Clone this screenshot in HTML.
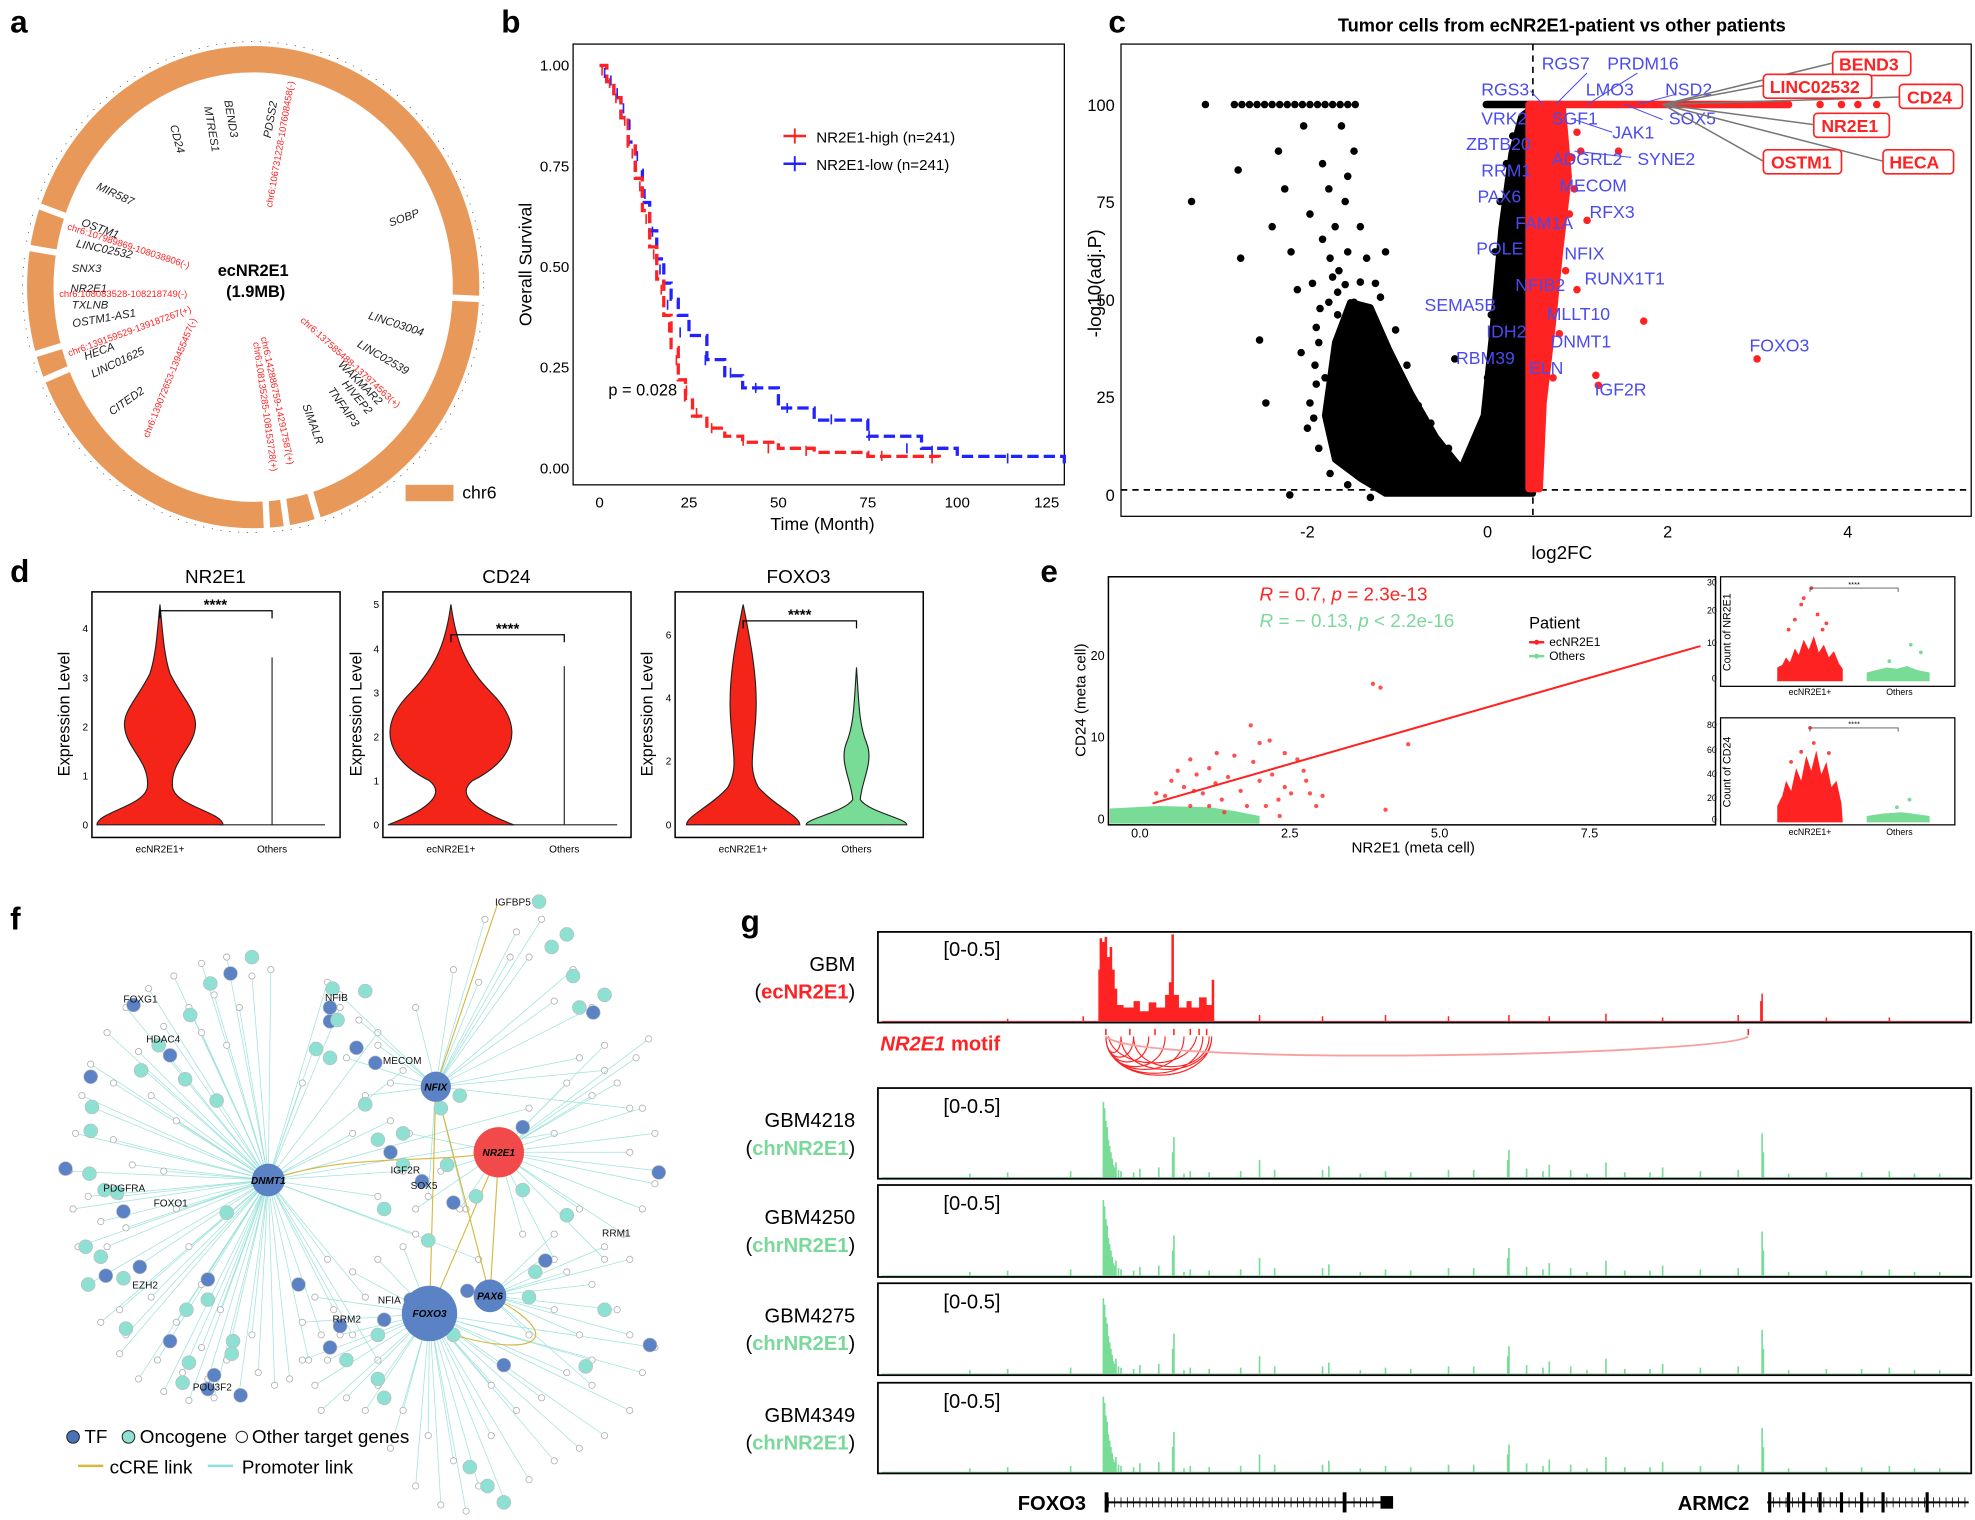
<!DOCTYPE html>
<html><head><meta charset="utf-8">
<style>
html,body{margin:0;padding:0;background:#fff;}
svg{display:block;font-family:"Liberation Sans",Arial,sans-serif;}
</style></head>
<body>
<svg width="1975" height="1520" viewBox="0 0 1568 1207" preserveAspectRatio="none" xmlns="http://www.w3.org/2000/svg">
<defs>
<marker id="wn" markerUnits="userSpaceOnUse" markerWidth="8" markerHeight="8" refX="4" refY="4"><circle cx="4" cy="4" r="2.5" fill="#fff" stroke="#aaa" stroke-width="0.6"/></marker>
<g id="gtrack" stroke="#78dc96" stroke-width="1.3">
<line x1="700" y1="0" x2="1563" y2="0" stroke-width="0.6"/>
<path d="M876 0V-60M877 0V-55M878 0V-45M879 0V-40M880 0V-30M881 0V-25M882 0V-20M883 0V-15M884 0V-10M885 0V-8M886 0V-12M888 0V-6M890 0V-5M932 0V-32M931 0V-20M1000 0V-14M1198 0V-22M1399 0V-35M1230 0V-10M1275 0V-12M1050 0V-6M920 0V-8M960 0V-4M850 0V-5M1100 0V-5M1150 0V-6M1320 0V-8M1350 0V-5M1450 0V-4M1500 0V-5M1540 0V-3M770 0V-3M800 0V-4M1012 0V-6M1170 0V-6M1247 0V-6M1290 0V-4M1380 0V-6M1420 0V-3M1478 0V-4M1055 0V-9M1120 0V-4M905 0V-7M945 0V-5M985 0V-5M1212 0V-7M1225 0V-5M1197 0V-14M1400 0V-20M1080 0V-3M1260 0V-3M1310 0V-4M1520 0V-3M900 0V-4M940 0V-3"/>
</g>
</defs>
<rect width="1568" height="1207" fill="#fff"/>

<g font-weight="bold" font-size="25" fill="#000">
<text x="8" y="26">a</text><text x="398" y="26">b</text><text x="880" y="26">c</text>
<text x="8" y="462">d</text><text x="826" y="462">e</text><text x="8" y="738">f</text><text x="588" y="740">g</text>
</g>

<!-- Panel a -->
<g>
<ellipse cx="201" cy="228" rx="169" ry="181" fill="none" stroke="#E8995A" stroke-width="21"/>
<ellipse cx="201" cy="228" rx="183" ry="195" fill="none" stroke="#555" stroke-width="0.6" stroke-dasharray="1,6"/>
<g stroke="#fff" stroke-width="5">
<line x1="61" y1="175" x2="0" y2="152"/><line x1="53" y1="202" x2="-11" y2="191"/><line x1="58" y1="272" x2="-4" y2="291"/>
<line x1="64" y1="289" x2="4" y2="315"/><line x1="210" y1="378" x2="213" y2="443"/><line x1="222" y1="376" x2="231" y2="441"/>
<line x1="241" y1="373" x2="259" y2="435"/><line x1="351" y1="236" x2="416" y2="239"/>
</g>
<text x="201" y="219" font-size="13" font-weight="bold" text-anchor="middle">ecNR2E1</text>
<text x="203" y="236" font-size="13" font-weight="bold" text-anchor="middle">(1.9MB)</text>
<g font-size="9" font-style="italic" fill="#222">
<text x="135" y="100" transform="rotate(75 135 100)">CD24</text>
<text x="162" y="85" transform="rotate(80 162 85)">MTRES1</text>
<text x="178" y="80" transform="rotate(80 178 80)">BEND3</text>
<text x="215" y="110" transform="rotate(-80 215 110)">PDSS2</text>
<text x="76" y="150" transform="rotate(25 76 150)">MIR587</text>
<text x="64" y="179" transform="rotate(20 64 179)">OSTM1</text>
<text x="60" y="196" transform="rotate(12 60 196)">LINC02532</text>
<text x="57" y="216">SNX3</text>
<text x="56" y="232">NR2E1</text>
<text x="57" y="245">TXLNB</text>
<text x="58" y="260" transform="rotate(-10 58 260)">OSTM1-AS1</text>
<text x="68" y="286" transform="rotate(-20 68 286)">HECA</text>
<text x="74" y="300" transform="rotate(-25 74 300)">LINC01625</text>
<text x="89" y="330" transform="rotate(-35 89 330)">CITED2</text>
<text x="310" y="180" transform="rotate(-20 310 180)">SOBP</text>
<text x="292" y="253" transform="rotate(18 292 253)">LINC03004</text>
<text x="283" y="275" transform="rotate(30 283 275)">LINC02539</text>
<text x="268" y="290" transform="rotate(45 268 290)">WAKMAR2</text>
<text x="271" y="305" transform="rotate(50 271 305)">HIVEP2</text>
<text x="260" y="310" transform="rotate(55 260 310)">TNFAIP3</text>
<text x="240" y="322" transform="rotate(70 240 322)">SIMALR</text>
</g>
<g font-size="7.5" fill="#f22">
<text x="216" y="165" transform="rotate(-80 216 165)">chr6:106731228-107608458(-)</text>
<text x="53" y="182" transform="rotate(18 53 182)">chr6:107989869-108038806(-)</text>
<text x="47" y="236">chr6:108083528-108218749(-)</text>
<text x="55" y="283" transform="rotate(-20 55 283)">chr6:139159529-139187267(+)</text>
<text x="118" y="348" transform="rotate(-68 118 348)">chr6:139072653-139455457(-)</text>
<text x="207" y="268" transform="rotate(78 207 268)">chr6:142886759-142917587(+)</text>
<text x="201" y="272" transform="rotate(82 201 272)">chr6:108135285-108153728(+)</text>
<text x="238" y="255" transform="rotate(42 238 255)">chr6:137585488-137974563(+)</text>
</g>
<rect x="322" y="385" width="38" height="13" fill="#E8995A"/>
<text x="367" y="396" font-size="14">chr6</text>
</g>

<!-- Panel b -->
<g font-size="12">
<rect x="455" y="35" width="390" height="350" fill="none" stroke="#000" stroke-width="1"/>
<g text-anchor="end">
<text x="452" y="56">1.00</text><text x="452" y="136">0.75</text><text x="452" y="216">0.50</text><text x="452" y="296">0.25</text><text x="452" y="376">0.00</text></g>
<g text-anchor="middle">
<text x="476" y="403">0</text><text x="547" y="403">25</text><text x="618" y="403">50</text><text x="689" y="403">75</text><text x="760" y="403">100</text><text x="831" y="403">125</text></g>
<text x="653" y="421" font-size="14" text-anchor="middle">Time (Month)</text>
<text x="422" y="210" font-size="14" text-anchor="middle" transform="rotate(-90 422 210)">Overall Survival</text>
<path d="M476 52H481.7V64.8H487.4V77.6H493V93.6H498.7V112.8H504.4V135.2H510V160.8H515.8V183.2H521.4V205.6H527V224.8H532.8V237.6H538.5V250.4H547V266.4H561.2V285.6H575.4V298.4H589.6V308H618V324H646.4V333.6H689V346.4H731.6V356H760V362.4H845V368.8" fill="none" stroke="#22f" stroke-width="2.6" stroke-dasharray="9,4"/>
<path d="M476 52H481.7V64.8H487.4V77.6H493V93.6H498.7V116H504.4V141.6H510V167.2H515.8V196H521.4V221.6H527V250.4H532.8V276H538.5V301.6H544.2V317.6H549.8V330.4H561.2V340H575.4V346.4H589.6V351.2H618V356H646.4V359.2H689V362.4H745.8V365.6" fill="none" stroke="#f22" stroke-width="2.6" stroke-dasharray="9,4"/>
<path d="M480 54v8M485 60v8M490 70v8M495 82v8M500 95v8M506 120v8M512 150v8M518 180v8M524 210v8M530 238v8M540 260v8M560 282v8M580 292v8M600 304v8M625 320v8M660 329v8M690 342v8M720 352v8M740 354v8M800 360v8" stroke="#22f" stroke-width="1.3"/>
<path d="M478 52v8M484 62v8M489 74v8M496 92v8M502 118v8M508 144v8M513 170v8M519 198v8M525 226v8M531 256v8M537 282v8M545 306v8M553 324v8M565 336v8M590 346v8M610 352v8M640 354v8M700 358v8M740 360v8" stroke="#f22" stroke-width="1.3"/>
<text x="483" y="314" font-size="13">p = 0.028</text>
<line x1="622" y1="108" x2="640" y2="108" stroke="#f22" stroke-width="2"/><line x1="631" y1="102" x2="631" y2="114" stroke="#f22" stroke-width="1.5"/>
<text x="648" y="113">NR2E1-high (n=241)</text>
<line x1="622" y1="130" x2="640" y2="130" stroke="#22f" stroke-width="2"/><line x1="631" y1="124" x2="631" y2="136" stroke="#22f" stroke-width="1.5"/>
<text x="648" y="135">NR2E1-low (n=241)</text>
</g>

<!-- Panel c -->
<g font-size="13">
<text x="1240" y="25" font-size="14.5" font-weight="bold" text-anchor="middle">Tumor cells from ecNR2E1-patient vs other patients</text>
<rect x="890" y="35" width="675" height="375" fill="none" stroke="#000"/>
<g text-anchor="end"><text x="885" y="88">100</text><text x="885" y="165">75</text><text x="885" y="243">50</text><text x="885" y="320">25</text><text x="885" y="398">0</text></g>
<g text-anchor="middle"><text x="1038" y="427">-2</text><text x="1181" y="427">0</text><text x="1324" y="427">2</text><text x="1467" y="427">4</text></g>
<text x="1240" y="444" font-size="15" text-anchor="middle">log2FC</text>
<text x="874" y="225" font-size="15" text-anchor="middle" transform="rotate(-90 874 225)">-log10(adj.P)</text>
</g>
<g fill="#000">
<path d="M1052 330L1060 272L1072 240L1088 244L1103 278L1120 312L1140 347L1160 372L1178 330L1185 262L1192 182L1200 122L1208 92L1217 85L1217 392L1100 392L1080 380L1060 365Z" stroke="#000" stroke-width="5" stroke-linejoin="round"/>
<line x1="980" y1="83" x2="1077" y2="83" stroke="#000" stroke-width="6" stroke-linecap="round" stroke-dasharray="0,6"/>
<line x1="1180" y1="83" x2="1215" y2="83" stroke="#000" stroke-width="6" stroke-linecap="round"/>
<g>
<circle cx="957" cy="83" r="3"/><circle cx="946" cy="160" r="3"/><circle cx="983" cy="135" r="3"/><circle cx="985" cy="205" r="3"/><circle cx="1000" cy="270" r="3"/><circle cx="1010" cy="180" r="3"/><circle cx="1015" cy="120" r="3"/><circle cx="1020" cy="150" r="3"/><circle cx="1025" cy="200" r="3"/><circle cx="1030" cy="230" r="3"/><circle cx="1035" cy="100" r="3"/><circle cx="1040" cy="170" r="3"/><circle cx="1045" cy="260" r="3"/><circle cx="1050" cy="130" r="3"/><circle cx="1052" cy="300" r="3"/><circle cx="1055" cy="150" r="3"/><circle cx="1058" cy="220" r="3"/><circle cx="1060" cy="180" r="3"/><circle cx="1062" cy="250" r="3"/><circle cx="1065" cy="330" r="3"/><circle cx="1070" cy="200" r="3"/><circle cx="1072" cy="280" r="3"/><circle cx="1075" cy="240" r="3"/><circle cx="1078" cy="310" r="3"/><circle cx="1080" cy="350" r="3"/><circle cx="1085" cy="260" r="3"/><circle cx="1088" cy="290" r="3"/><circle cx="1090" cy="330" r="3"/><circle cx="1095" cy="300" r="3"/><circle cx="1098" cy="360" r="3"/><circle cx="1024" cy="393" r="3"/><circle cx="1155" cy="285" r="3"/><circle cx="1005" cy="320" r="3"/><circle cx="1040" cy="320" r="3"/><circle cx="1065" cy="100" r="3"/><circle cx="1070" cy="140" r="3"/><circle cx="1075" cy="120" r="3"/><circle cx="1080" cy="180" r="3"/><circle cx="1085" cy="205" r="3"/><circle cx="1050" cy="190" r="3"/><circle cx="1033" cy="280" r="3"/><circle cx="1042" cy="225" r="3"/><circle cx="1048" cy="245" r="3"/><circle cx="1056" cy="205" r="3"/><circle cx="1063" cy="215" r="3"/><circle cx="1068" cy="160" r="3"/><circle cx="1044" cy="290" r="3"/><circle cx="1038" cy="340" r="3"/><circle cx="1112" cy="340" r="3"/><circle cx="1100" cy="200" r="3"/><circle cx="1092" cy="225" r="3"/>
<circle cx="1055" cy="240" r="3"/><circle cx="1062" cy="232" r="3"/><circle cx="1068" cy="226" r="3"/><circle cx="1080" cy="224" r="3"/><circle cx="1096" cy="236" r="3"/><circle cx="1047" cy="272" r="3"/><circle cx="1045" cy="305" r="3"/><circle cx="1043" cy="332" r="3"/><circle cx="1047" cy="356" r="3"/><circle cx="1056" cy="376" r="3"/><circle cx="1112" cy="300" r="3"/><circle cx="1126" cy="322" r="3"/><circle cx="1136" cy="336" r="3"/><circle cx="1150" cy="356" r="3"/><circle cx="1108" cy="262" r="3"/><circle cx="1117" cy="290" r="3"/><circle cx="1181" cy="300" r="3"/><circle cx="1184" cy="250" r="3"/><circle cx="1187" cy="200" r="3"/><circle cx="1191" cy="160" r="3"/><circle cx="1196" cy="130" r="3"/><circle cx="1201" cy="108" r="3"/><circle cx="1178" cy="335" r="3"/><circle cx="1172" cy="352" r="3"/><circle cx="1088" cy="395" r="3"/><circle cx="1070" cy="385" r="3"/>
</g>
</g>
<line x1="1217" y1="35" x2="1217" y2="410" stroke="#000" stroke-dasharray="5,4" stroke-width="1.3"/>
<line x1="890" y1="389" x2="1565" y2="389" stroke="#000" stroke-dasharray="5,4" stroke-width="1.3"/>
<g fill="#f22">
<path d="M1214 83L1240 83L1245 140L1238 200L1232 260L1225 320L1222 388L1214 388Z" stroke="#f22" stroke-width="6" stroke-linejoin="round"/>
<line x1="1217" y1="83" x2="1420" y2="83" stroke="#f22" stroke-width="6" stroke-linecap="round"/>
<circle cx="1445" cy="83" r="3"/><circle cx="1462" cy="83" r="3"/><circle cx="1475" cy="83" r="3"/><circle cx="1490" cy="83" r="3"/>
<circle cx="1255" cy="120" r="3"/><circle cx="1260" cy="175" r="3"/><circle cx="1285" cy="120" r="3"/><circle cx="1305" cy="255" r="3"/><circle cx="1267" cy="298" r="3"/><circle cx="1269" cy="306" r="3"/><circle cx="1395" cy="285" r="3"/><circle cx="1252" cy="230" r="3"/><circle cx="1250" cy="150" r="3"/><circle cx="1252" cy="105" r="3"/>
<circle cx="1246" cy="170" r="3"/><circle cx="1243" cy="215" r="3"/><circle cx="1238" cy="265" r="3"/><circle cx="1233" cy="300" r="3"/><circle cx="1248" cy="125" r="3"/>
</g>
<g font-size="14" fill="#4a4af0">
<g stroke="#4a4af0" stroke-width="0.8">
<line x1="1260" y1="58" x2="1235" y2="83"/><line x1="1300" y1="58" x2="1260" y2="83"/><line x1="1330" y1="75" x2="1300" y2="83"/><line x1="1215" y1="72" x2="1225" y2="83"/>
<line x1="1250" y1="95" x2="1280" y2="105"/><line x1="1290" y1="83" x2="1320" y2="95"/><line x1="1250" y1="120" x2="1295" y2="125"/>
</g>
<text x="1224" y="55">RGS7</text><text x="1276" y="55">PRDM16</text><text x="1176" y="76">RGS3</text><text x="1259" y="76">LMO3</text><text x="1322" y="76">NSD2</text>
<text x="1176" y="99">VRK2</text><text x="1232" y="99">SGF1</text><text x="1280" y="110">JAK1</text><text x="1325" y="99">SOX5</text>
<text x="1164" y="119">ZBTB20</text><text x="1232" y="131">ADGRL2</text><text x="1300" y="131">SYNE2</text>
<text x="1176" y="140">RRM1</text><text x="1238" y="152">MECOM</text><text x="1173" y="161">PAX6</text><text x="1262" y="173">RFX3</text>
<text x="1203" y="182">FAM1A</text><text x="1172" y="202">POLE</text><text x="1242" y="206">NFIX</text><text x="1258" y="226">RUNX1T1</text>
<text x="1203" y="231">NFIB2</text><text x="1131" y="247">SEMA5B</text><text x="1228" y="254">MLLT10</text><text x="1180" y="268">IDH2</text>
<text x="1231" y="276">DNMT1</text><text x="1156" y="289">RBM39</text><text x="1214" y="297">ELN</text><text x="1266" y="314">IGF2R</text>
<text x="1389" y="279">FOXO3</text>
</g>
<g font-size="14" font-weight="bold" fill="#f22">
<g stroke="#777" stroke-width="1.2">
<line x1="1320" y1="83" x2="1455" y2="50"/><line x1="1320" y1="83" x2="1400" y2="68"/><line x1="1320" y1="83" x2="1508" y2="77"/>
<line x1="1320" y1="83" x2="1440" y2="99"/><line x1="1320" y1="83" x2="1400" y2="128"/><line x1="1320" y1="83" x2="1495" y2="128"/>
</g>
<g fill="#fff" stroke="#f22" stroke-width="1.3">
<rect x="1455" y="41" width="62" height="19" rx="3"/><rect x="1400" y="59" width="86" height="19" rx="3"/><rect x="1508" y="67" width="50" height="19" rx="3"/>
<rect x="1440" y="90" width="60" height="19" rx="3"/><rect x="1400" y="119" width="62" height="19" rx="3"/><rect x="1495" y="119" width="56" height="19" rx="3"/>
</g>
<text x="1460" y="56">BEND3</text><text x="1405" y="74">LINC02532</text><text x="1514" y="82">CD24</text>
<text x="1446" y="105">NR2E1</text><text x="1406" y="134">OSTM1</text><text x="1500" y="134">HECA</text>
</g>

<!-- Panel d -->
<g font-size="10">
<g font-size="15" text-anchor="middle"><text x="171" y="463">NR2E1</text><text x="402" y="463">CD24</text><text x="634" y="463">FOXO3</text></g>
<g stroke="#222" stroke-width="0.9">
<path fill="#f42418" d="M127 480 C129 500,130 520,135 535 C145 555,157 565,155 578 C153 595,135 605,137 625 C139 640,177 645,177 655 L77 655 C77 645,115 640,117 625 C119 605,101 595,99 578 C97 565,109 555,119 535 C124 520,125 500,127 480 Z"/>
<path fill="#f42418" d="M358 480 C362 510,370 530,390 550 C420 580,405 605,375 620 C365 628,368 640,408 655 L308 655 C348 640,351 628,341 620 C311 605,296 580,326 550 C346 530,354 510,358 480 Z"/>
<path fill="#f42418" d="M590 480 C596 510,602 540,600 570 C598 600,594 610,602 625 C615 640,635 648,635 655 L545 655 C545 648,565 640,578 625 C586 610,582 600,580 570 C578 540,584 510,590 480 Z"/>
<path fill="#78dc96" d="M680 530 C682 560,682 575,688 590 C694 605,684 620,683 635 C690 645,720 650,720 655 L640 655 C640 650,670 645,677 635 C676 620,666 605,672 590 C678 575,678 560,680 530 Z"/>
<path fill="none" d="M174 655H258M216 655V522M405 655H490M448 655V529"/>
</g>
<rect x="73" y="470" width="197" height="195" fill="none" stroke="#000" stroke-width="1.2"/>
<rect x="304" y="470" width="197" height="195" fill="none" stroke="#000" stroke-width="1.2"/>
<rect x="536" y="470" width="197" height="195" fill="none" stroke="#000" stroke-width="1.2"/>
<g font-size="13" text-anchor="middle">
<text x="55" y="567" transform="rotate(-90 55 567)">Expression Level</text>
<text x="287" y="567" transform="rotate(-90 287 567)">Expression Level</text>
<text x="518" y="567" transform="rotate(-90 518 567)">Expression Level</text></g>
<g font-size="8" text-anchor="middle"><text x="127" y="677">ecNR2E1+</text><text x="216" y="677">Others</text>
<text x="358" y="677">ecNR2E1+</text><text x="448" y="677">Others</text><text x="590" y="677">ecNR2E1+</text><text x="680" y="677">Others</text></g>
<g font-size="8" text-anchor="end">
<text x="70" y="658">0</text><text x="70" y="619">1</text><text x="70" y="580">2</text><text x="70" y="541">3</text><text x="70" y="502">4</text>
<text x="301" y="658">0</text><text x="301" y="623">1</text><text x="301" y="588">2</text><text x="301" y="553">3</text><text x="301" y="518">4</text><text x="301" y="483">5</text>
<text x="533" y="658">0</text><text x="533" y="607">2</text><text x="533" y="557">4</text><text x="533" y="507">6</text></g>
<g stroke="#000" fill="none" stroke-width="1">
<path d="M127 491 V485 H216 V491"/><path d="M358 510 V504 H448 V510"/><path d="M590 499 V493 H680 V499"/></g>
<g font-size="12" font-weight="bold" text-anchor="middle"><text x="171" y="484">****</text><text x="403" y="503">****</text><text x="635" y="492">****</text></g>
</g>

<!-- Panel e -->
<g font-size="10">
<path d="M881 642 L920 640 L960 641 L980 644 L1000 648 L1000 654 L881 654 Z" fill="#78dc96"/>
<line x1="920" y1="651" x2="998" y2="652" stroke="#78dc96" stroke-width="2"/>
<g fill="#f33" opacity="0.85">
<circle cx="925" cy="632" r="1.7"/><circle cx="930" cy="620" r="1.7"/><circle cx="940" cy="625" r="1.7"/><circle cx="945" cy="640" r="1.7"/><circle cx="950" cy="615" r="1.7"/><circle cx="955" cy="630" r="1.7"/><circle cx="960" cy="610" r="1.7"/><circle cx="965" cy="622" r="1.7"/><circle cx="970" cy="635" r="1.7"/><circle cx="975" cy="617" r="1.7"/><circle cx="980" cy="600" r="1.7"/><circle cx="985" cy="628" r="1.7"/><circle cx="990" cy="640" r="1.7"/><circle cx="995" cy="605" r="1.7"/><circle cx="1000" cy="620" r="1.7"/><circle cx="1005" cy="640" r="1.7"/><circle cx="1010" cy="615" r="1.7"/><circle cx="1015" cy="635" r="1.7"/><circle cx="1020" cy="625" r="1.7"/><circle cx="1025" cy="630" r="1.7"/><circle cx="1030" cy="603" r="1.7"/><circle cx="1035" cy="612" r="1.7"/><circle cx="1040" cy="630" r="1.7"/><circle cx="1045" cy="640" r="1.7"/><circle cx="1000" cy="590" r="1.7"/><circle cx="993" cy="576" r="1.7"/><circle cx="1020" cy="598" r="1.7"/><circle cx="1037" cy="620" r="1.7"/><circle cx="1090" cy="543" r="1.7"/><circle cx="1096" cy="546" r="1.7"/><circle cx="1118" cy="591" r="1.7"/><circle cx="1100" cy="643" r="1.7"/><circle cx="945" cy="603" r="1.7"/><circle cx="960" cy="640" r="1.7"/><circle cx="1008" cy="588" r="1.7"/><circle cx="935" cy="612" r="1.7"/><circle cx="918" cy="630" r="1.7"/><circle cx="948" cy="628" r="1.7"/><circle cx="972" cy="645" r="1.7"/><circle cx="966" cy="598" r="1.7"/><circle cx="1050" cy="632" r="1.7"/><circle cx="1016" cy="648" r="1.7"/>
</g>
<rect x="880" y="458" width="482" height="197" fill="none" stroke="#000" stroke-width="1.2"/>
<g text-anchor="end" font-size="10"><text x="877" y="524">20</text><text x="877" y="589">10</text><text x="877" y="654">0</text></g>
<g text-anchor="middle" font-size="10"><text x="905" y="665">0.0</text><text x="1024" y="665">2.5</text><text x="1143" y="665">5.0</text><text x="1262" y="665">7.5</text></g>
<text x="1122" y="677" font-size="12" text-anchor="middle">NR2E1 (meta cell)</text>
<text x="862" y="556" font-size="12" text-anchor="middle" transform="rotate(-90 862 556)">CD24 (meta cell)</text>
<text x="1000" y="477" font-size="15" fill="#f22"><tspan font-style="italic">R</tspan> = 0.7, <tspan font-style="italic">p</tspan> = 2.3e-13</text>
<text x="1000" y="498" font-size="15" fill="#7ad99a"><tspan font-style="italic">R</tspan> = − 0.13, <tspan font-style="italic">p</tspan> &lt; 2.2e-16</text>
<text x="1214" y="499" font-size="13">Patient</text>
<line x1="1214" y1="510" x2="1226" y2="510" stroke="#f22" stroke-width="2"/><circle cx="1220" cy="510" r="2" fill="#f22"/><text x="1230" y="513" font-size="9.5">ecNR2E1</text>
<line x1="1214" y1="521" x2="1226" y2="521" stroke="#7ad99a" stroke-width="2"/><circle cx="1220" cy="521" r="2" fill="#7ad99a"/><text x="1230" y="524" font-size="9.5">Others</text>
<line x1="915" y1="638" x2="1350" y2="513" stroke="#f22" stroke-width="1.6"/>
<path d="M1411 541 L1411 530 L1415 528 L1418 522 L1421 526 L1425 515 L1428 520 L1432 508 L1436 516 L1440 505 L1444 518 L1448 512 L1452 522 L1456 517 L1460 527 L1463 531 L1463 541 Z" fill="#f22"/>
<path d="M1482 541 L1482 534 L1490 532 L1498 530 L1506 531 L1514 529 L1522 532 L1532 534 L1532 541 Z" fill="#78dc96"/>
<path d="M1411 653 L1411 640 L1415 632 L1418 620 L1422 628 L1426 610 L1430 620 L1434 600 L1438 612 L1442 596 L1446 615 L1450 605 L1454 625 L1458 620 L1462 638 L1463 653 Z" fill="#f22"/>
<path d="M1482 653 L1482 648 L1495 646 L1510 645 L1525 647 L1532 648 L1532 653 Z" fill="#78dc96"/>
<g fill="#f22" opacity="0.85"><circle cx="1438" cy="467" r="1.5"/><circle cx="1432" cy="475" r="1.5"/><circle cx="1430" cy="480" r="1.5"/><circle cx="1443" cy="488" r="1.5"/><circle cx="1425" cy="492" r="1.5"/><circle cx="1450" cy="495" r="1.5"/><circle cx="1420" cy="500" r="1.5"/><circle cx="1447" cy="500" r="1.5"/><circle cx="1437" cy="578" r="1.5"/><circle cx="1430" cy="597" r="1.5"/><circle cx="1452" cy="598" r="1.5"/><circle cx="1440" cy="590" r="1.5"/><circle cx="1422" cy="605" r="1.5"/></g>
<g fill="#78dc96"><circle cx="1517" cy="512" r="1.5"/><circle cx="1525" cy="518" r="1.5"/><circle cx="1500" cy="525" r="1.5"/><circle cx="1516" cy="635" r="1.5"/><circle cx="1506" cy="641" r="1.5"/></g>
<rect x="1366" y="458" width="186" height="87" fill="none" stroke="#000"/>
<rect x="1366" y="570" width="186" height="85" fill="none" stroke="#000"/>
<g font-size="7" text-anchor="end"><text x="1363" y="465">30</text><text x="1363" y="487">20</text><text x="1363" y="513">10</text><text x="1363" y="541">0</text>
<text x="1363" y="578">80</text><text x="1363" y="598">60</text><text x="1363" y="617">40</text><text x="1363" y="636">20</text><text x="1363" y="653">0</text></g>
<text x="1374" y="502" font-size="8.5" text-anchor="middle" transform="rotate(-90 1374 502)">Count of NR2E1</text>
<text x="1374" y="613" font-size="8.5" text-anchor="middle" transform="rotate(-90 1374 613)">Count of CD24</text>
<g font-size="7" text-anchor="middle"><text x="1437" y="552">ecNR2E1+</text><text x="1508" y="552">Others</text><text x="1437" y="663">ecNR2E1+</text><text x="1508" y="663">Others</text></g>
<path d="M1437 470 V467 H1507 V470 M1437 581 V578 H1507 V581" stroke="#555" fill="none" stroke-width="0.7"/>
<text x="1472" y="466" font-size="6" text-anchor="middle">****</text><text x="1472" y="577" font-size="6" text-anchor="middle">****</text>
</g>

<!-- Panel f network -->
<g fill="none" stroke="#9fe3dc" stroke-width="0.6" marker-mid="url(#wn)" marker-end="url(#wn)">
<path d="M213 937L60 900M213 937L55 930M213 937L58 960M213 937L62 990M213 937L70 1020M213 937L80 1050M213 937L95 1075M213 937L110 1095M213 937L130 1105M213 937L150 1112M213 937L170 1110M213 937L190 1105M213 937L65 870M213 937L72 845M213 937L85 820M213 937L100 800M213 937L118 785M213 937L138 775M213 937L160 765M213 937L180 760M213 937L200 775M213 937L215 770M213 937L75 880M213 937L90 905M213 937L95 950M213 937L100 975M213 937L110 1005M213 937L120 1030M213 937L140 1050M213 937L160 1070M213 937L180 1080M213 937L200 1060M213 937L90 860M213 937L110 835M213 937L130 815M213 937L150 800M213 937L170 790M213 937L190 800M213 937L120 870M213 937L140 890M213 937L130 930M213 937L140 960M213 937L150 990M213 937L160 1020M213 937L175 1040M213 937L105 925M213 937L85 990M213 937L100 1060M213 937L125 1080M213 937L145 1090M213 937L165 1095M213 937L70 950M213 937L80 970M213 937L95 1040M213 937L115 850M213 937L135 840M213 937L160 820M213 937L180 830M213 937L205 1090M213 937L218 1100M213 937L230 1095M213 937L245 1080M213 937L255 1060M213 937L265 1040M213 937L300 820M213 937L320 850M213 937L280 900M213 937L300 950M213 937L330 980M213 937L260 1000M213 937L280 1060M213 937L300 1080M213 937L290 1030M213 937L250 830M213 937L270 800M213 937L260 780M213 937L240 860M213 937L310 890M213 937L320 930M213 937L420 880M213 937L440 900M213 937L380 1000"/>
<path d="M346 863L410 740M346 863L420 760M346 863L455 770M346 863L470 800M346 863L440 795M346 863L270 790M346 863L285 810M346 863L300 830M346 863L275 840M346 863L290 870M346 863L380 780M346 863L360 770M346 863L480 850M346 863L500 880M346 863L460 840M346 863L430 730M346 863L385 730M346 863L405 760M346 863L330 800M346 863L310 860M346 863L340 950M346 863L370 960"/>
<path d="M396 915L490 860M396 915L510 880M396 915L520 900M396 915L525 930M396 915L510 960M396 915L495 980M396 915L480 1000M396 915L470 870M396 915L450 860M396 915L500 915M396 915L520 940M396 915L460 960M396 915L440 1000M396 915L415 980M396 915L365 960M396 915L350 930M396 915L505 840M396 915L515 825M396 915L480 830M396 915L325 900M396 915L330 960"/>
<path d="M341 1043L300 1100M341 1043L320 1120M341 1043L340 1140M341 1043L360 1160M341 1043L380 1180M341 1043L400 1190M341 1043L420 1175M341 1043L440 1160M341 1043L460 1150M341 1043L480 1140M341 1043L500 1120M341 1043L510 1090M341 1043L520 1070M341 1043L270 1060M341 1043L260 1080M341 1043L250 1100M341 1043L240 1050M341 1043L250 1030M341 1043L280 1010M341 1043L300 1000M341 1043L320 990M341 1043L290 1120M341 1043L310 1150M341 1043L330 1180M341 1043L350 1195M341 1043L370 1200M341 1043L390 1140M341 1043L410 1120M341 1043L430 1110M341 1043L450 1090M341 1043L470 1080M341 1043L240 1080M341 1043L255 1120M341 1043L275 1110M341 1043L390 1100"/>
<path d="M389 1029L430 1000M389 1029L450 1010M389 1029L470 1020M389 1029L490 1040M389 1029L500 1060M389 1029L460 1060M389 1029L440 1040M389 1029L420 1060M389 1029L480 990M389 1029L440 980M389 1029L500 1000M389 1029L470 1100"/>
</g>
<g stroke="#d4b840" stroke-width="0.9" fill="none">
<path d="M346 863L341 1043M396 915L341 1043M213 937C280 915 330 925 396 915M346 863L389 1029M396 915L389 1029M346 863L395 718M389 1029C450 1060 430 1080 360 1060"/>
</g>
<g stroke="#bbb" stroke-width="0.5">
<g fill="#5a82c4">
<circle cx="106" cy="798" r="5.5"/><circle cx="183" cy="773" r="5.5"/><circle cx="72" cy="855" r="5.5"/><circle cx="135" cy="838" r="5.5"/><circle cx="52" cy="928" r="5.5"/><circle cx="98" cy="962" r="5.5"/><circle cx="84" cy="1013" r="5.5"/><circle cx="165" cy="1016" r="5.5"/><circle cx="111" cy="1006" r="5.5"/><circle cx="135" cy="1065" r="5.5"/><circle cx="170" cy="1092" r="5.5"/><circle cx="191" cy="1108" r="5.5"/><circle cx="165" cy="1103" r="5.5"/><circle cx="237" cy="1020" r="5.5"/><circle cx="270" cy="1053" r="5.5"/><circle cx="262" cy="1070" r="5.5"/><circle cx="262" cy="800" r="5.5"/><circle cx="262" cy="811" r="5.5"/><circle cx="283" cy="832" r="5.5"/><circle cx="298" cy="844" r="5.5"/><circle cx="371" cy="1025" r="5.5"/><circle cx="433" cy="1001" r="5.5"/><circle cx="415" cy="895" r="5.5"/><circle cx="400" cy="1084" r="5.5"/><circle cx="516" cy="1068" r="5.5"/><circle cx="471" cy="804" r="5.5"/><circle cx="326" cy="1032" r="5.5"/><circle cx="305" cy="1048" r="5.5"/><circle cx="310" cy="915" r="5.5"/><circle cx="335" cy="938" r="5.5"/><circle cx="360" cy="955" r="5.5"/><circle cx="523" cy="931" r="5.5"/>
</g>
<g fill="#8ee0d2">
<circle cx="167" cy="781" r="5.5"/><circle cx="200" cy="760" r="5.5"/><circle cx="151" cy="806" r="5.5"/><circle cx="126" cy="830" r="5.5"/><circle cx="112" cy="850" r="5.5"/><circle cx="147" cy="857" r="5.5"/><circle cx="172" cy="874" r="5.5"/><circle cx="73" cy="879" r="5.5"/><circle cx="72" cy="898" r="5.5"/><circle cx="71" cy="932" r="5.5"/><circle cx="93" cy="947" r="5.5"/><circle cx="180" cy="963" r="5.5"/><circle cx="83" cy="945" r="5.5"/><circle cx="68" cy="990" r="5.5"/><circle cx="80" cy="998" r="5.5"/><circle cx="98" cy="1015" r="5.5"/><circle cx="148" cy="1040" r="5.5"/><circle cx="165" cy="1032" r="5.5"/><circle cx="70" cy="1020" r="5.5"/><circle cx="100" cy="1055" r="5.5"/><circle cx="150" cy="1082" r="5.5"/><circle cx="145" cy="1098" r="5.5"/><circle cx="185" cy="1065" r="5.5"/><circle cx="184" cy="1075" r="5.5"/><circle cx="264" cy="785" r="5.5"/><circle cx="290" cy="787" r="5.5"/><circle cx="268" cy="810" r="5.5"/><circle cx="251" cy="833" r="5.5"/><circle cx="262" cy="840" r="5.5"/><circle cx="290" cy="877" r="5.5"/><circle cx="320" cy="900" r="5.5"/><circle cx="355" cy="925" r="5.5"/><circle cx="320" cy="925" r="5.5"/><circle cx="378" cy="950" r="5.5"/><circle cx="350" cy="880" r="5.5"/><circle cx="365" cy="870" r="5.5"/><circle cx="415" cy="945" r="5.5"/><circle cx="425" cy="1010" r="5.5"/><circle cx="450" cy="965" r="5.5"/><circle cx="455" cy="775" r="5.5"/><circle cx="460" cy="800" r="5.5"/><circle cx="450" cy="742" r="5.5"/><circle cx="428" cy="716" r="5.5"/><circle cx="438" cy="752" r="5.5"/><circle cx="480" cy="790" r="5.5"/><circle cx="480" cy="1040" r="5.5"/><circle cx="360" cy="1060" r="5.5"/><circle cx="300" cy="1060" r="5.5"/><circle cx="275" cy="1080" r="5.5"/><circle cx="300" cy="1095" r="5.5"/><circle cx="305" cy="1110" r="5.5"/><circle cx="465" cy="1085" r="5.5"/><circle cx="387" cy="1180" r="5.5"/><circle cx="400" cy="1193" r="5.5"/><circle cx="373" cy="1165" r="5.5"/><circle cx="305" cy="960" r="5.5"/><circle cx="340" cy="985" r="5.5"/><circle cx="300" cy="905" r="5.5"/><circle cx="420" cy="1030" r="5.5"/>
</g>
</g>
<circle cx="213" cy="937" r="13" fill="#5a82c4"/><circle cx="346" cy="863" r="12" fill="#5a82c4"/>
<circle cx="396" cy="915" r="20" fill="#f24a4a"/><circle cx="389" cy="1029" r="13" fill="#5a82c4"/><circle cx="341" cy="1043" r="22" fill="#5a82c4"/>
<g font-size="8" font-weight="bold" font-style="italic" text-anchor="middle">
<text x="213" y="940">DNMT1</text><text x="346" y="866">NFIX</text><text x="396" y="918">NR2E1</text><text x="389" y="1032">PAX6</text><text x="341" y="1046">FOXO3</text></g>
<g font-size="8" fill="#111">
<text x="98" y="796">FOXG1</text><text x="116" y="828">HDAC4</text><text x="258" y="795">NFIB</text><text x="304" y="845">MECOM</text>
<text x="310" y="932">IGF2R</text><text x="326" y="944">SOX5</text><text x="82" y="946">PDGFRA</text><text x="122" y="958">FOXO1</text>
<text x="105" y="1023">EZH2</text><text x="300" y="1035">NFIA</text><text x="264" y="1050">RRM2</text><text x="153" y="1104">POU3F2</text>
<text x="393" y="719">IGFBP5</text><text x="478" y="982">RRM1</text>
</g>
<g font-size="15">
<circle cx="58" cy="1141" r="5" fill="#4a72b8" stroke="#222" stroke-width="0.8"/><text x="67" y="1146">TF</text>
<circle cx="102" cy="1141" r="5" fill="#8ee0d2" stroke="#222" stroke-width="0.8"/><text x="111" y="1146">Oncogene</text>
<circle cx="192" cy="1141" r="4.5" fill="#fff" stroke="#222" stroke-width="0.8"/><text x="200" y="1146">Other target genes</text>
<line x1="62" y1="1164" x2="82" y2="1164" stroke="#d4b840" stroke-width="2"/><text x="87" y="1170">cCRE link</text>
<line x1="165" y1="1164" x2="185" y2="1164" stroke="#8fe0da" stroke-width="2"/><text x="192" y="1170">Promoter link</text>
</g>

<!-- Panel g -->
<g font-size="16">
<g stroke="#f22" stroke-width="1.2" fill="#f22">
<line x1="700" y1="811" x2="1563" y2="811" stroke-width="0.6"/>
<path d="M872 811V770H873V745H875V748H877V744H879V760H881V752H883V770H885V785H887V798H892V800H900V795H905V803H912V796H918V800H925V790H928V780H930V742H932V790H936V800H942V795H946V800H952V792H958V798H962V778H964V811Z" stroke="none"/>
<path d="M1000 811V806M1050 811V807M1100 811V806M1150 811V807M1198 811V806M1230 811V807M1275 811V805M1320 811V808M1380 811V806M1399 811V789M1398 811V795M1450 811V808M1500 811V808M860 811V807M800 811V809" fill="none"/>
</g>
<use href="#gtrack" transform="translate(0 935)"/>
<use href="#gtrack" transform="translate(0 1013)"/>
<use href="#gtrack" transform="translate(0 1091)"/>
<use href="#gtrack" transform="translate(0 1169)"/>
<g fill="none" stroke-width="1.4" stroke="#000">
<rect x="697" y="740" width="868" height="72"/><rect x="697" y="864" width="868" height="72"/>
<rect x="697" y="941" width="868" height="73"/><rect x="697" y="1019" width="868" height="73"/><rect x="697" y="1098" width="868" height="72"/>
</g>
<g text-anchor="end">
<text x="679" y="771">GBM</text><text x="679" y="793">(<tspan fill="#f22" font-weight="bold">ecNR2E1</tspan>)</text>
<text x="679" y="895">GBM4218</text><text x="679" y="917">(<tspan fill="#7ad99a" font-weight="bold">chrNR2E1</tspan>)</text>
<text x="679" y="972">GBM4250</text><text x="679" y="994">(<tspan fill="#7ad99a" font-weight="bold">chrNR2E1</tspan>)</text>
<text x="679" y="1050">GBM4275</text><text x="679" y="1072">(<tspan fill="#7ad99a" font-weight="bold">chrNR2E1</tspan>)</text>
<text x="679" y="1129">GBM4349</text><text x="679" y="1151">(<tspan fill="#7ad99a" font-weight="bold">chrNR2E1</tspan>)</text>
</g>
<g><text x="749" y="759">[0-0.5]</text><text x="749" y="884">[0-0.5]</text><text x="749" y="961">[0-0.5]</text><text x="749" y="1039">[0-0.5]</text><text x="749" y="1118">[0-0.5]</text></g>
<text x="699" y="834" fill="#f22" font-weight="bold"><tspan font-style="italic">NR2E1</tspan> motif</text>
<g fill="none" stroke="#f22" stroke-width="0.9">
<path d="M878 823C878 840 890 840 890 823M878 823C878 845 900 845 900 823M878 823C878 850 912 850 912 823M878 823C878 855 925 855 925 823M878 823C878 858 940 858 940 823M878 823C878 862 955 862 955 823M878 823C878 864 962 864 962 823M890 823C890 858 962 858 962 823M900 823C900 855 960 855 960 823M880 823C885 850 945 852 950 823"/>
</g>
<path d="M878 823C900 848 1370 838 1388 823" fill="none" stroke="#f7a0a0" stroke-width="1.5"/>
<path d="M878 817v5M897 817v5M917 817v5M932 817v5M945 817v5M952 817v5M958 817v5M1388 817v5" stroke="#f22" stroke-width="1.2"/>
<text x="808" y="1199" font-weight="bold">FOXO3</text><text x="1332" y="1199" font-weight="bold">ARMC2</text>
<line x1="877" y1="1193" x2="1100" y2="1193" stroke="#000" stroke-width="1.5"/>
<rect x="1096" y="1188" width="10" height="10" fill="#000"/><rect x="1066" y="1185" width="3" height="16" fill="#000"/><rect x="877" y="1185" width="3" height="16" fill="#000"/>
<line x1="1403" y1="1193" x2="1563" y2="1193" stroke="#000" stroke-width="1.5"/>
<path d="M880 1189v8M885 1189v8M890 1189v8M895 1189v8M900 1189v8M905 1189v8M910 1189v8M915 1189v8M920 1189v8M925 1189v8M930 1189v8M935 1189v8M940 1189v8M945 1189v8M950 1189v8M955 1189v8M960 1189v8M965 1189v8M970 1189v8M975 1189v8M980 1189v8M985 1189v8M990 1189v8M995 1189v8M1000 1189v8M1005 1189v8M1010 1189v8M1015 1189v8M1020 1189v8M1025 1189v8M1030 1189v8M1035 1189v8M1040 1189v8M1045 1189v8M1050 1189v8M1055 1189v8M1060 1189v8M1075 1189v8M1080 1189v8M1085 1189v8M1090 1189v8M1408 1189v8M1413 1189v8M1418 1189v8M1423 1189v8M1428 1189v8M1438 1189v8M1443 1189v8M1448 1189v8M1453 1189v8M1458 1189v8M1468 1189v8M1473 1189v8M1483 1189v8M1488 1189v8M1498 1189v8M1503 1189v8M1508 1189v8M1513 1189v8M1518 1189v8M1523 1189v8M1528 1189v8M1535 1189v8M1540 1189v8M1545 1189v8M1550 1189v8M1555 1189v8M1560 1189v8" stroke="#000" stroke-width="0.6"/>
<path d="M1405 1185v16M1420 1185v16M1432 1185v16M1445 1185v16M1462 1185v16M1478 1185v16M1495 1185v16M1530 1185v16" stroke="#000" stroke-width="2.5"/>
</g>
</svg>
</body></html>
